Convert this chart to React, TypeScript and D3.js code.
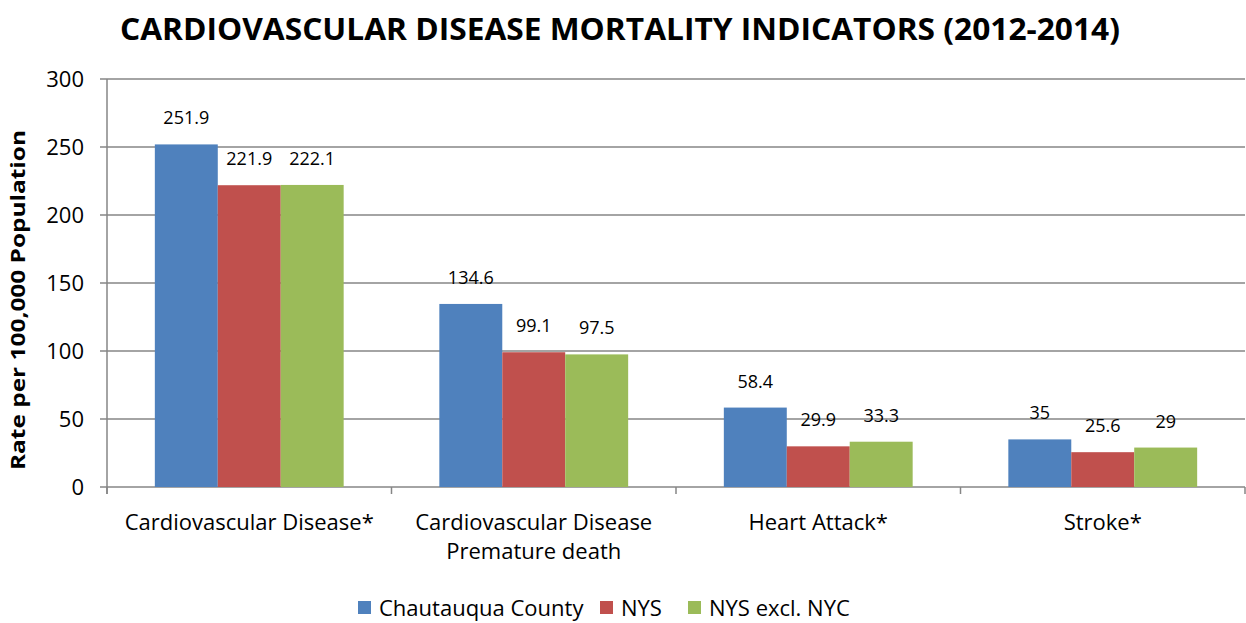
import React from "react";
import * as d3 from "d3";

const categories = [["Cardiovascular Disease*"], ["Cardiovascular Disease", "Premature death"], ["Heart Attack*"], ["Stroke*"]];
const seriesNames = ["Chautauqua County", "NYS", "NYS excl. NYC"];
const chautauqua = [251.9, 134.6, 58.4, 35];
const nys = [221.9, 99.1, 29.9, 25.6];
const nysExcl = [222.1, 97.5, 33.3, 29];
const colors = ["#4F81BD", "#C0504D", "#9BBB59"];
const yTicks = [0, 50, 100, 150, 200, 250, 300];

export default function App() {
  const W = 1246, H = 623;
  const left = 107, right = 1245, top = 79, bottom = 487;
  const font = "'Open Sans', 'Noto Sans', sans-serif";
  const series = [chautauqua, nys, nysExcl];
  const y = d3.scaleLinear().domain([0, 300]).range([bottom, top]);
  const x0 = d3.scaleBand<number>().domain(d3.range(categories.length)).range([left, right]).paddingInner(0).paddingOuter(0);
  const inner = d3.scaleBand<number>().domain(d3.range(3)).range([0, x0.bandwidth()]).paddingOuter(0.76).paddingInner(0);
  const grid = "#868686";
  return (
    <svg width={W} height={H} style={{ position: "absolute", left: 0, top: 0, background: "#fff" }}>
      <text x={620} y={40} textAnchor="middle" fontFamily={font} fontWeight="bold" fontSize={31} fill="#000" textLength={1000} lengthAdjust="spacingAndGlyphs">
        CARDIOVASCULAR DISEASE MORTALITY INDICATORS (2012-2014)
      </text>
      <text transform={`translate(25,${(top + bottom) / 2 + 17}) rotate(-90)`} textAnchor="middle" fontFamily={font} fontWeight="bold" fontSize={20} fill="#000" textLength={340} lengthAdjust="spacingAndGlyphs">
        Rate per 100,000 Population
      </text>
      {yTicks.map((t) => (
        <g key={t}>
          <line x1={100} x2={right} y1={y(t)} y2={y(t)} stroke={grid} strokeWidth={1.5} />
          <text x={84} y={y(t) + 8} textAnchor="end" fontFamily={font} fontSize={22} fill="#000">{t}</text>
        </g>
      ))}
      <line x1={left} x2={left} y1={top} y2={bottom + 7} stroke={grid} strokeWidth={1.5} />
      {d3.range(categories.length + 1).map((i) => {
        const xx = i < categories.length ? x0(i)! : right;
        return <line key={i} x1={xx} x2={xx} y1={bottom} y2={bottom + 7} stroke={grid} strokeWidth={1.5} />;
      })}
      {categories.map((c, ci) => (
        <g key={ci}>
          {series.map((s, si) => {
            const bx = x0(ci)! + inner(si)!;
            return (
              <g key={si}>
                <rect x={bx} y={y(s[ci])} width={inner.bandwidth()} height={bottom - y(s[ci])} fill={colors[si]} />
                <text x={bx + inner.bandwidth() / 2} y={y(s[ci]) - 20} textAnchor="middle" fontFamily={font} fontSize={18} fill="#000">{s[ci]}</text>
              </g>
            );
          })}
          {c.map((line, li) => (
            <text key={li} x={x0(ci)! + x0.bandwidth() / 2} y={530 + li * 29} textAnchor="middle" fontFamily={font} fontSize={22} fill="#000">{line}</text>
          ))}
        </g>
      ))}
      {seriesNames.map((n, i) => {
        const xs = [358, 600, 688][i];
        return (
          <g key={n}>
            <rect x={xs} y={601} width={13} height={13} fill={colors[i]} />
            <text x={xs + 21} y={616} fontFamily={font} fontSize={22} fill="#000">{n}</text>
          </g>
        );
      })}
    </svg>
  );
}
